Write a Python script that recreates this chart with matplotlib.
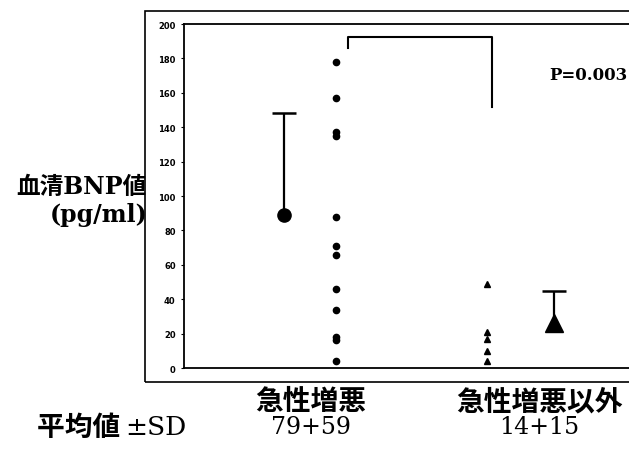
import matplotlib
matplotlib.use('Agg')
import matplotlib.pyplot as plt
from matplotlib.patches import Rectangle

# data
acute_vals = [178, 157, 137, 135, 88, 71, 66, 46, 34, 18, 16, 4]
other_vals = [49, 21, 17, 10, 4]
acute_mean, acute_sd = 89, 59
other_mean, other_sd = 26, 18.5
group_names = ['急性増悪', '急性増悪以外']
group_stats = ['79+59', '14+15']
p_text = 'P=0.003'
yticks = list(range(0, 201, 20))

serif_jp = ['DejaVu Serif', 'Noto Sans CJK JP']
sans_jp = ['Noto Sans CJK JP', 'DejaVu Sans']

fig = plt.figure(figsize=(6.29, 4.52), dpi=100)
ax = fig.add_axes([0.2925, 0.1836, 0.72, 0.761])

# x positions of each column (axis units 0..10)
x_acute, x_acute_mean = 3.35, 2.2
x_other, x_other_mean = 6.7, 8.18

ax.plot([x_acute] * len(acute_vals), acute_vals, 'o', color='black', markersize=4.5)
ax.plot([x_other] * len(other_vals), other_vals, '^', color='black', markersize=5)

# mean with upper SD only
for xm, m, sd, mk, ms in [(x_acute_mean, acute_mean, acute_sd, 'o', 9.5),
                          (x_other_mean, other_mean, other_sd, '^', 13)]:
    ax.vlines(xm, m, m + sd, color='black', lw=1.6)
    ax.plot(xm, m + sd, marker='_', color='black', markersize=17, mew=1.8)
    ax.plot(xm, m, marker=mk, color='black', markersize=ms)

# significance bracket
ax.plot([3.63, 3.63, 6.8, 6.8], [186, 192.5, 192.5, 152], color='black', lw=1.5)
fig.text(627 / 629, 1 - 75 / 452, p_text, ha='right', va='center', fontsize=12,
         fontweight='bold', family=serif_jp)

ax.set_xlim(0, 10)
ax.set_ylim(0, 200)
ax.set_yticks(yticks)
ax.set_xticks([])
ax.tick_params(axis='y', labelsize=6, length=2, width=0.8, pad=4)
for lab in ax.get_yticklabels():
    lab.set_fontweight('bold')
for s in ax.spines.values():
    s.set_linewidth(1.3)

# outer chart-area frame
fig.patches.append(Rectangle((145 / 629, 1 - 383 / 452), 1.0, (383 - 12) / 452,
                             transform=fig.transFigure, fill=False, edgecolor='black',
                             lw=1.2))

# y label
fig.text(147 / 629, 1 - 187 / 452, '血清BNP値', ha='right', va='center', fontsize=17,
         fontweight='bold', family=serif_jp)
fig.text(147 / 629, 1 - 215 / 452, '(pg/ml)', ha='right', va='center', fontsize=17,
         fontweight='bold', family=serif_jp)

# bottom labels
fig.text(37 / 629, 1 - 428 / 452, '平均値 ', ha='left', va='center', fontsize=20,
         fontweight='bold', family=sans_jp)
fig.text(187 / 629, 1 - 428 / 452, '±SD', ha='right', va='center', fontsize=19,
         family=serif_jp)
for cx, name, st in zip([311, 539], group_names, group_stats):
    fig.text(cx / 629, 1 - 402 / 452, name, ha='center', va='center', fontsize=20,
             fontweight='bold', family=sans_jp)
    fig.text(cx / 629, 1 - 428 / 452, st, ha='center', va='center', fontsize=17,
             family=serif_jp)

fig.savefig('out.png', dpi=100)
